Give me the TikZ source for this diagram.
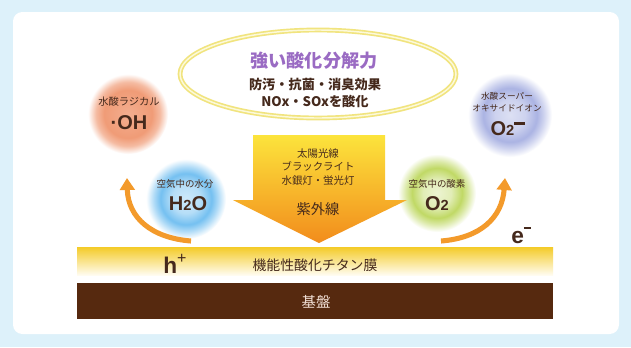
\documentclass[tikz,border=0pt]{standalone}
\usepackage{fontspec}
\setmainfont{Noto Sans CJK JP}
\newfontfamily\latf{Liberation Sans}
\usetikzlibrary{arrows.meta}
\definecolor{bgblue}{HTML}{DDF1FA}
\definecolor{ringY}{HTML}{F1E47E}
\definecolor{ringL}{HTML}{FCF9DA}
\definecolor{purp}{HTML}{9A6BC3}
\definecolor{txt}{HTML}{45291C}
\definecolor{arrTop}{HTML}{FCE43C}
\definecolor{arrMid}{HTML}{F8BA2A}
\definecolor{arrBot}{HTML}{F28C1C}
\definecolor{orangeA}{HTML}{F39A2B}
\definecolor{cOH}{HTML}{EE8E64}
\definecolor{cHtwo}{HTML}{5CB5EE}
\definecolor{cOtwo}{HTML}{B5D24A}
\definecolor{cOm}{HTML}{9CA6DE}
\definecolor{barY}{HTML}{F4CB28}
\definecolor{barM}{HTML}{FBE9A2}
\definecolor{barP}{HTML}{FFFCF0}
\definecolor{basec}{HTML}{56290F}
\definecolor{baseT}{HTML}{F4E2D8}
\pgfdeclareradialshading{shOH}{\pgfpoint{0bp}{0bp}}{color(0bp)=(cOH!72!white); color(15bp)=(cOH!88!white); color(20bp)=(cOH!60!white); color(25bp)=(white); color(50bp)=(white)}
\pgfdeclareradialshading{shHtwo}{\pgfpoint{0bp}{0bp}}{color(0bp)=(cHtwo!30!white); color(9bp)=(cHtwo!45!white); color(16bp)=(cHtwo!85!white); color(20bp)=(cHtwo!50!white); color(25bp)=(white); color(50bp)=(white)}
\pgfdeclareradialshading{shOtwo}{\pgfpoint{0bp}{0bp}}{color(0bp)=(cOtwo!25!white); color(9bp)=(cOtwo!40!white); color(16bp)=(cOtwo!85!white); color(20bp)=(cOtwo!50!white); color(25bp)=(white); color(50bp)=(white)}
\pgfdeclareradialshading{shOm}{\pgfpoint{0bp}{0bp}}{color(0bp)=(cOm!35!white); color(9bp)=(cOm!50!white); color(16bp)=(cOm!85!white); color(20bp)=(cOm!50!white); color(25bp)=(white); color(50bp)=(white)}
\begin{document}
\begin{tikzpicture}[x=0.75pt,y=-0.75pt,
  lbl/.style={inner sep=0pt, text=txt, align=center},
  small/.style={lbl, font=\fontsize{7.1}{9}\selectfont},
  big/.style={lbl, font=\latf\bfseries\fontsize{15}{16}\selectfont},
  curv/.style={draw=orangeA, line width=3.8pt, -{Triangle[length=9pt,width=11pt]}}]
\useasboundingbox (0,0) rectangle (631,347);
\fill[bgblue] (0,0) rectangle (631,347);
\fill[white, rounded corners=7pt] (13,12) rectangle (619,334);
% ring
\draw[ringY, line width=3.6pt] (318,74) ellipse [x radius=138, y radius=44];
\draw[ringL, line width=1.1pt] (318,74) ellipse [x radius=138, y radius=44];
\node[lbl, text=purp, font=\bfseries\fontsize{13.6}{15}\selectfont] (title) at (314,61) {強い酸化分解力};
\node[lbl, font=\bfseries\fontsize{9.9}{12.8}\selectfont, anchor=north] (effect) at (315,78) {防汚・抗菌・消臭効果\\NOx・SOxを酸化};
% circles
\path[shading=shOH] (128,114) circle[radius=40];
\path[shading=shOm] (510,115) circle[radius=42];
\path[shading=shHtwo] (186,199) circle[radius=40];
\path[shading=shOtwo] (437,193) circle[radius=39];
\node[small, font=\fontsize{7.7}{9}\selectfont] (ohl) at (129,102) {水酸ラジカル};
\node[big, font=\latf\bfseries\fontsize{15}{16}\selectfont] (oh) at (129,123) {·OH};
\node[small, font=\fontsize{6.5}{9}\selectfont] (oml) at (507,102) {水酸スーパー\\オキサイドイオン};
\node[big] (om) at (508,129) {O{\fontsize{11}{12}\selectfont 2}\raisebox{0.55em}{\rule{0.55em}{0.12em}}};
\node[small] (hl) at (185,184) {空気中の水分};
\node[big] (h2o) at (188,204) {H{\fontsize{11}{12}\selectfont 2}O};
\node[small] (ol) at (437,184) {空気中の酸素};
\node[big] (o2) at (437,204) {O{\fontsize{11}{12}\selectfont 2}};
% UV arrow
\shade[top color=arrTop, middle color=arrMid, bottom color=arrBot]
  (253,135) -- (385,135) -- (385,200) -- (407,200) -- (319,243) -- (233,200) -- (253,200) -- cycle;
\node[lbl, font=\fontsize{7.8}{10.4}\selectfont] (src) at (318,167) {太陽光線\\ブラックライト\\水銀灯・蛍光灯};
\node[lbl, font=\fontsize{10.7}{12}\selectfont] (uv) at (318,209) {紫外線};
% bars
\shade[top color=barY, middle color=barM, bottom color=barP] (77,247) rectangle (553,275);
\fill[basec] (77,283) rectangle (553,319);
\node[lbl, font=\fontsize{10.4}{12}\selectfont] (film) at (315,265) {機能性酸化チタン膜};
\node[lbl, text=baseT, font=\fontsize{10.8}{12}\selectfont] (base) at (316,302) {基盤};
\node[lbl, font=\latf\bfseries\fontsize{17}{18}\selectfont, anchor=base west] (hp) at (163,273) {h\raisebox{0.42em}{\mdseries\fontsize{12}{12}\selectfont +}};
\node[lbl, font=\latf\bfseries\fontsize{17}{18}\selectfont, anchor=base west] (em) at (511,243) {e\raisebox{0.62em}{\rule{0.33em}{0.09em}}};
% curved arrows
\coordinate (la0) at (191,241);
\coordinate (la1) at (127,178);
\coordinate (ra0) at (441,241);
\coordinate (ra1) at (505,178);
\draw[curv] (la0) .. controls (152,238) and (128,218) .. (la1);
\draw[curv] (ra0) .. controls (480,238) and (502,218) .. (ra1);
\end{tikzpicture}
\end{document}
